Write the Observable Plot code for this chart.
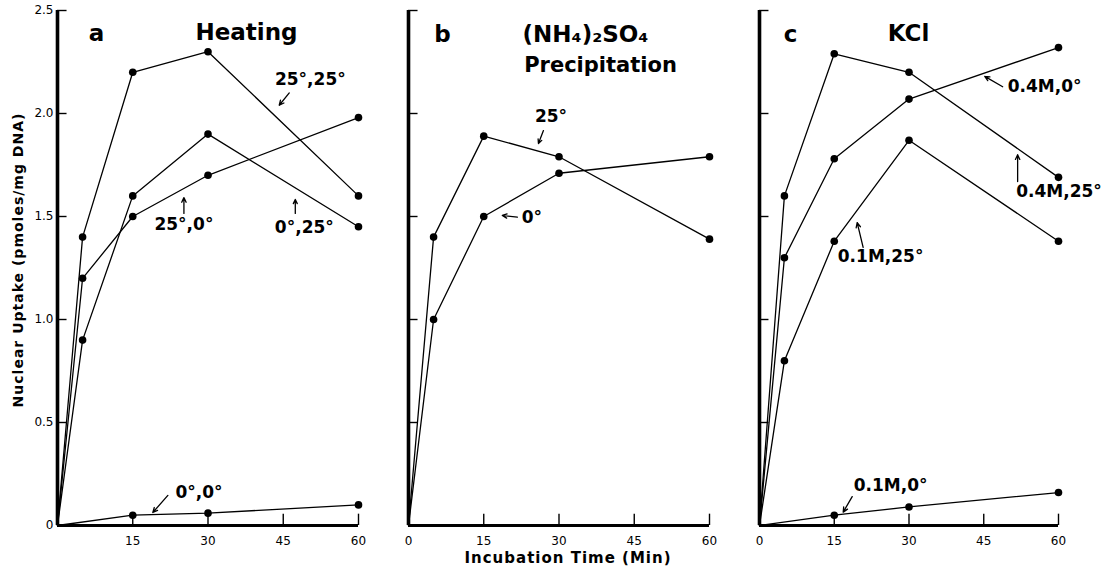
<!DOCTYPE html>
<html><head><meta charset="utf-8">
<script src="https://cdn.jsdelivr.net/npm/d3@7"></script>
<script src="https://cdn.jsdelivr.net/npm/@observablehq/plot@0.6"></script>
<style>
html,body{margin:0;padding:0;background:#fff;}
#wrap{position:relative;width:1117px;height:573px;overflow:hidden;background:#fff;}
#wrap svg{position:absolute;top:0;overflow:visible;}
</style></head><body><div id="wrap"></div>
<script>
// ---------- data ----------
const time = [0, 5, 15, 30, 60];
const timeLow = [0, 15, 30, 60];

// Panel a – Heating
const heat25_25 = [0, 1.40, 2.20, 2.30, 1.60];
const heat0_25  = [0, 0.90, 1.60, 1.90, 1.45];
const heat25_0  = [0, 1.20, 1.50, 1.70, 1.98];
const heat0_0   = [0, 0.05, 0.06, 0.10];

// Panel b – (NH4)2SO4 precipitation
const amm25 = [0, 1.40, 1.89, 1.79, 1.39];
const amm0  = [0, 1.00, 1.50, 1.71, 1.79];

// Panel c – KCl
const kcl04_25 = [0, 1.60, 2.29, 2.20, 1.69];
const kcl04_0  = [0, 1.30, 1.78, 2.07, 2.32];
const kcl01_25 = [0, 0.80, 1.38, 1.87, 1.38];
const kcl01_0  = [0, 0.05, 0.09, 0.16];

const yTicks = [0, 0.5, 1.0, 1.5, 2.0, 2.5];
const yTickLabels = ["0", "0.5", "1.0", "1.5", "2.0", "2.5"];
const xTicksA = [15, 30, 45, 60];
const xTicksBC = [0, 15, 30, 45, 60];

// curve labels (data coordinates) and their arrows [x1,y1,x2,y2]
const labelsA = ["25°,25°", "25°,0°", "0°,25°", "0°,0°"];
const labelXA = [50.4, 25.2, 49.2, 28.2];
const labelYA = [2.163, 1.459, 1.444, 0.158];
const arrowsA = [[46.2, 2.10, 44.2, 2.04], [25.2, 1.515, 25.2, 1.592], [47.4, 1.515, 47.4, 1.583], [22.0, 0.146, 19.0, 0.063]];

const labelsB = ["25°", "0°"];
const labelXB = [28.4, 24.6];
const labelYB = [1.983, 1.493];
const arrowsB = [[26.9, 1.917, 25.9, 1.854], [21.7, 1.497, 18.7, 1.505]];

const labelsC = ["0.4M,0°", "0.4M,25°", "0.1M,25°", "0.1M,0°"];
const labelXC = [57.2, 60.1, 24.3, 26.3];
const labelYC = [2.129, 1.619, 1.308, 0.192];
const arrowsC = [[48.8, 2.13, 45.2, 2.18], [51.8, 1.67, 51.8, 1.80], [20.8, 1.35, 19.6, 1.47], [18.6, 0.14, 16.8, 0.065]];

// ---------- helpers ----------
function rows(list) {
  return list.flatMap(([name, xs, ys]) => xs.map((t, i) => ({name, t, v: ys[i]})));
}
function labelRows(texts, xs, ys) {
  return texts.map((text, i) => ({text, x: xs[i], y: ys[i]}));
}
function arrowRows(arr) {
  return arr.map(([x1, y1, x2, y2]) => ({x1, y1, x2, y2}));
}

const FONT = "DejaVu Sans, sans-serif";

function panel({left, width, ml, mr, series, xTicks, yLabels, labels, arrows, titles, extra}) {
  const data = rows(series);
  const marks = [
    // axes
    Plot.ruleY([0], {x1: 0, x2: 60, strokeWidth: 3.2, stroke: "#000"}),
    Plot.ruleX([0], {y1: 0, y2: 2.5, strokeWidth: 3.6, stroke: "#000"}),
    Plot.ruleY(yTicks.slice(1), {x1: 0, x2: 1.9, strokeWidth: 1.4, stroke: "#000"}),
    Plot.ruleX(xTicksA, {y1: 0, y2: 0.055, strokeWidth: 1.4, stroke: "#000"}),
    Plot.text(xTicks, {x: d => d, y: 0, dy: 16, text: d => String(d), fontSize: 12, fill: "#000"}),
    // data
    Plot.line(data, {x: "t", y: "v", z: "name", stroke: "#000", strokeWidth: 1.3}),
    Plot.dot(data.filter(d => d.t > 0), {x: "t", y: "v", r: 3.8, fill: "#000", stroke: "none"}),
    // annotations
    Plot.text(labels, {x: "x", y: "y", text: "text", fontSize: 17, fontWeight: "bold", fill: "#000"}),
    Plot.arrow(arrows, {x1: "x1", y1: "y1", x2: "x2", y2: "y2", stroke: "#000", strokeWidth: 1.3, headLength: 6, headAngle: 50}),
  ];
  if (yLabels) {
    marks.push(Plot.text(yTicks, {x: 0, y: d => d, dx: -4, textAnchor: "end", text: (d, i) => yTickLabels[i], fontSize: 12, fill: "#000"}));
  }
  for (const t of titles) {
    marks.push(Plot.text([t.text], {frameAnchor: "top-left", textAnchor: "middle", dx: t.dx, dy: t.dy, fontSize: t.size, fontWeight: "bold", fill: "#000"}));
  }
  if (extra) marks.push(...extra);
  const svg = Plot.plot({
    width, height: 573,
    marginLeft: ml, marginRight: mr, marginTop: 10, marginBottom: 48,
    x: {domain: [0, 60], axis: null},
    y: {domain: [0, 2.5], axis: null},
    style: {fontFamily: FONT, fontSize: "12px", color: "#000", background: "transparent", overflow: "visible"},
    marks
  });
  svg.style.left = left + "px";
  document.getElementById("wrap").appendChild(svg);
  return svg;
}

// ---------- panels ----------
const svgA = panel({
  left: 0, width: 370, ml: 57, mr: 12,
  series: [["25,25", time, heat25_25], ["0,25", time, heat0_25], ["25,0", time, heat25_0], ["0,0", timeLow, heat0_0]],
  xTicks: xTicksA, yLabels: true,
  labels: labelRows(labelsA, labelXA, labelYA), arrows: arrowRows(arrowsA),
  titles: [{text: "a", dx: 39, dy: 14, size: 23}, {text: "Heating", dx: 189, dy: 13, size: 23}],
  extra: [Plot.text(["Nuclear Uptake (pmoles/mg DNA)"], {frameAnchor: "left", textAnchor: "middle", rotate: -90, dx: -39, dy: -8, fontSize: 14, fontWeight: "bold", fill: "#000"})]
});

const svgB = panel({
  left: 370, width: 352, ml: 38, mr: 13,
  series: [["25", time, amm25], ["0", time, amm0]],
  xTicks: xTicksBC, yLabels: false,
  labels: labelRows(labelsB, labelXB, labelYB), arrows: arrowRows(arrowsB),
  titles: [{text: "b", dx: 34, dy: 15, size: 23}, {text: "(NH₄)₂SO₄", dx: 177, dy: 15, size: 23}, {text: "Precipitation", dx: 192, dy: 47, size: 21}],
  extra: [Plot.text(["Incubation Time (Min)"], {frameAnchor: "bottom", textAnchor: "middle", dx: 9, dy: 37, fontSize: 15, fontWeight: "bold", fill: "#000"})]
});

const svgC = panel({
  left: 722, width: 395, ml: 37, mr: 59,
  series: [["0.4,25", time, kcl04_25], ["0.4,0", time, kcl04_0], ["0.1,25", time, kcl01_25], ["0.1,0", timeLow, kcl01_0]],
  xTicks: xTicksBC, yLabels: false,
  labels: labelRows(labelsC, labelXC, labelYC), arrows: arrowRows(arrowsC),
  titles: [{text: "c", dx: 31, dy: 15, size: 23}, {text: "KCl", dx: 149, dy: 14, size: 23}]
});

// letter spacing for axis titles
for (const svg of [svgA, svgB]) {
  svg.querySelectorAll("text").forEach(t => {
    if (t.textContent.startsWith("Nuclear") || t.textContent.startsWith("Incubation")) t.style.letterSpacing = "1px";
  });
}
</script>
</body></html>
